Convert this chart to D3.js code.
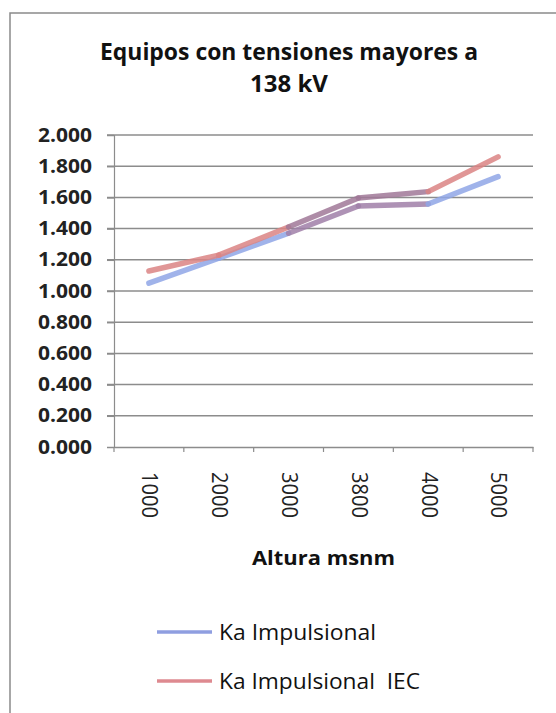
<!DOCTYPE html>
<html><head><meta charset="utf-8">
<script src="https://cdn.jsdelivr.net/npm/d3@7"></script>
<style>body{margin:0;background:#fff}svg{display:block}</style>
</head><body>
<script>
const categories = ["1000","2000","3000","3800","4000","5000"];
const kaImpulsional = [1.05, 1.21, 1.37, 1.545, 1.558, 1.733];
const kaImpulsionalIEC = [1.128, 1.23, 1.41, 1.596, 1.637, 1.86];
const yTicks = [0,0.2,0.4,0.6,0.8,1.0,1.2,1.4,1.6,1.8,2.0];
const seriesNames = ["Ka Impulsional","Ka Impulsional  IEC"];

const W=556,H=713;
const svg=d3.select("body").append("svg").attr("width",W).attr("height",H);
svg.append("rect").attr("x",10).attr("y",13).attr("width",W).attr("height",H).attr("fill","#fff").attr("stroke","#8a8a8a").attr("stroke-width",1.5);

const font="'Open Sans', Lato, sans-serif";
const x=d3.scaleBand().domain(categories).range([114,533]);
const y=d3.scaleLinear().domain([0,2]).range([447,135]);

// title
svg.append("text").attr("x",100).attr("y",60).attr("font-family",font).attr("font-weight","bold").attr("font-size",23.5).attr("fill","#111")
 .attr("textLength",378).attr("lengthAdjust","spacingAndGlyphs").text("Equipos con tensiones mayores a");
svg.append("text").attr("x",250).attr("y",92).attr("font-family",font).attr("font-weight","bold").attr("font-size",23.5).attr("fill","#111")
 .attr("textLength",78).attr("lengthAdjust","spacingAndGlyphs").text("138 kV");

// gridlines
svg.append("g").selectAll("line").data(yTicks.filter(d=>d>0)).join("line")
 .attr("x1",107).attr("x2",533).attr("y1",d=>y(d)).attr("y2",d=>y(d))
 .attr("stroke","#8c8c8c").attr("stroke-width",1.5);

// y axis
const ya=svg.append("g").attr("transform","translate(114,0)").call(d3.axisLeft(y).tickValues(yTicks).tickFormat(d3.format(".3f")).tickSize(7).tickPadding(15));
ya.select(".domain").attr("stroke","#8c8c8c").attr("stroke-width",1.2);
ya.selectAll(".tick line").attr("stroke","#8c8c8c").attr("stroke-width",1.5);
ya.selectAll("text").attr("font-family",font).attr("font-weight","bold").attr("font-size",19).attr("fill","#222")
 .attr("textLength",54).attr("lengthAdjust","spacingAndGlyphs");

// x axis
const xa=svg.append("g").attr("transform","translate(0,447)").call(d3.axisBottom(x).tickSize(0).tickPadding(0));
xa.select(".domain").attr("stroke","#8c8c8c").attr("stroke-width",1.5);
xa.selectAll(".tick text").attr("font-family",font).attr("font-size",21.5).attr("fill","#222")
 .attr("text-anchor","start").attr("dy","0.36em").attr("transform","translate(1,25) rotate(90)")
 .attr("textLength",46).attr("lengthAdjust","spacingAndGlyphs");
svg.append("g").selectAll("line").data(categories.concat([null])).join("line")
 .attr("x1",(d,i)=>114+i*x.step()).attr("x2",(d,i)=>114+i*x.step()).attr("y1",447).attr("y2",452)
 .attr("stroke","#8c8c8c").attr("stroke-width",1.2);

svg.append("text").attr("x",252).attr("y",565).attr("font-family",font).attr("font-weight","bold").attr("font-size",19.5).attr("fill","#111")
 .attr("textLength",143).attr("lengthAdjust","spacingAndGlyphs").text("Altura msnm");

// lines
const cx=c=>x(c)+x.bandwidth()/2;
function drawSeries(vals,color,mid){
  for(let i=0;i<vals.length-1;i++){
    const col=(i===2||i===3)?mid:color;
    svg.append("path")
     .attr("d",d3.line().x(j=>cx(categories[j])).y(j=>y(vals[j]))([i,i+1]))
     .attr("fill","none").attr("stroke",col).attr("stroke-width",5.5).attr("stroke-linecap","round").attr("stroke-opacity",0.85);
  }
}
drawSeries(kaImpulsional,"#8fa6e6","#a07fa8");
drawSeries(kaImpulsionalIEC,"#db8484","#a07898");

// legend
const lg=[{n:seriesNames[0],c:"#8f9ee0",y:632,len:157},{n:seriesNames[1],c:"#de8a90",y:681,len:201}];
lg.forEach(l=>{
  svg.append("line").attr("x1",157).attr("x2",212).attr("y1",l.y).attr("y2",l.y).attr("stroke",l.c).attr("stroke-width",3.5);
  svg.append("text").attr("x",219).attr("y",l.y+7.5).attr("font-family",font).attr("font-size",21).attr("fill","#111")
   .attr("textLength",l.len).attr("lengthAdjust","spacingAndGlyphs").style("white-space","pre").text(l.n);
});
</script>
</body></html>
